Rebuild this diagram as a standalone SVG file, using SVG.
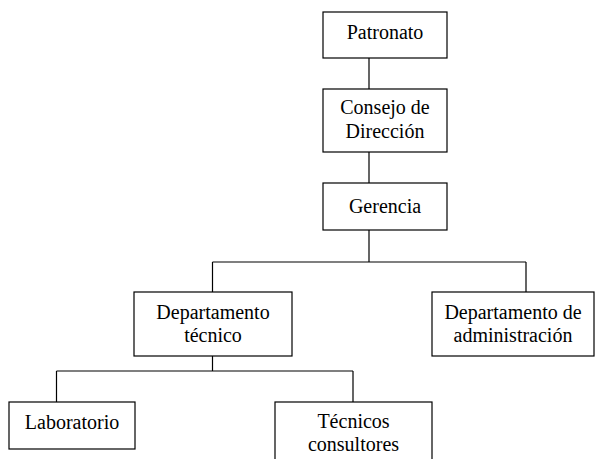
<svg xmlns="http://www.w3.org/2000/svg" width="595" height="459" viewBox="0 0 595 459">
<defs>
<style>
.box{fill:#fff;stroke:#000;stroke-width:1.2}
.ln{fill:none;stroke:#000;stroke-width:1.2}
text{font-family:"Times New Roman",serif}
</style>
</defs>
<rect width="595" height="459" fill="#fff"/>
<g id="connectors">
<path class="ln" d="M369,58V89M369,152V183M369,230V262M212.5,262H526M212.5,262V292M526,262V292M212.5,356V371M56.5,371H353M56.5,371V402M353,371V402"/>
</g>
<g id="patronato">
<rect class="box" x="323" y="12" width="124" height="46"/>
<text font-family="Times New Roman" font-size="20" text-anchor="middle" x="385" y="38.5">Patronato</text>
</g>
<g id="consejo">
<rect class="box" x="323" y="89" width="124" height="63"/>
<text font-family="Times New Roman" font-size="20" text-anchor="middle" x="385" y="114">Consejo de</text>
<text font-family="Times New Roman" font-size="20" text-anchor="middle" x="385" y="138">Dirección</text>
</g>
<g id="gerencia">
<rect class="box" x="323" y="183" width="124" height="47"/>
<text font-family="Times New Roman" font-size="20" text-anchor="middle" x="385" y="213">Gerencia</text>
</g>
<g id="dep-tecnico">
<rect class="box" x="134" y="292" width="158" height="64"/>
<text font-family="Times New Roman" font-size="20" text-anchor="middle" x="213" y="319">Departamento</text>
<text font-family="Times New Roman" font-size="20" text-anchor="middle" x="213" y="342">técnico</text>
</g>
<g id="dep-admin">
<rect class="box" x="432" y="292" width="162" height="64"/>
<text font-family="Times New Roman" font-size="20" text-anchor="middle" x="513" y="318.5">Departamento de</text>
<text font-family="Times New Roman" font-size="20" text-anchor="middle" x="513" y="342">administración</text>
</g>
<g id="laboratorio">
<rect class="box" x="9" y="402" width="126" height="47"/>
<text font-family="Times New Roman" font-size="20" text-anchor="middle" x="72" y="429">Laboratorio</text>
</g>
<g id="tecnicos">
<rect class="box" x="275" y="402" width="157" height="64"/>
<text font-family="Times New Roman" font-size="20" text-anchor="middle" x="353.5" y="428">Técnicos</text>
<text font-family="Times New Roman" font-size="20" text-anchor="middle" x="353.5" y="451">consultores</text>
</g>
</svg>
